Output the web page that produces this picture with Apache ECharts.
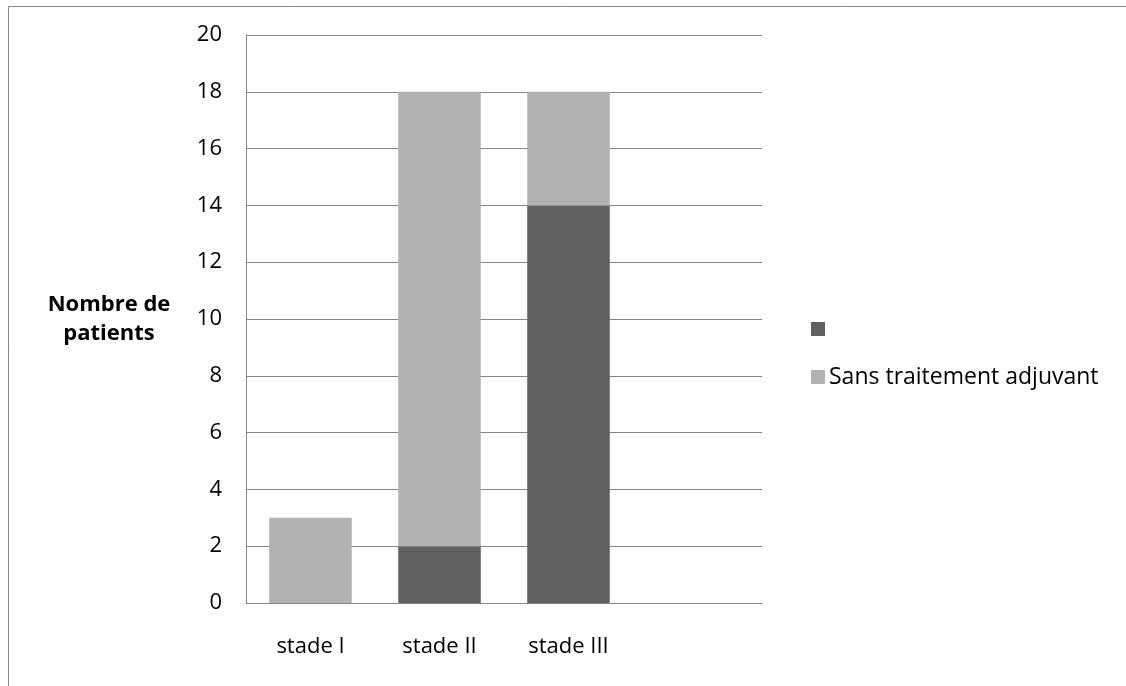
<!DOCTYPE html>
<html>
<head>
<meta charset="utf-8">
<script src="https://cdn.jsdelivr.net/npm/echarts@6/dist/echarts.min.js"></script>
<style>html,body{margin:0;padding:0;background:#fff;}#c{width:1126px;height:686px;}</style>
</head>
<body>
<div id="c"></div>
<script>
const categories = ['stade I', 'stade II', 'stade III', ''];
const avecTraitement = [0, 2, 14, null];
const sansTraitement = [3, 16, 4, null];
const yTicks = [0, 2, 4, 6, 8, 10, 12, 14, 16, 18, 20];
const seriesNames = [' ', 'Sans traitement adjuvant'];
const yAxisTitle = 'Nombre de\npatients';

const FONT = "'Open Sans', 'Liberation Sans', sans-serif";
const chart = echarts.init(document.getElementById('c'), null, {renderer: 'canvas'});
chart.setOption({
  animation: false,
  backgroundColor: '#fff',
  graphic: [{
    type: 'rect', shape: {x: 8.5, y: 6.5, width: 1200, height: 800},
    style: {fill: 'none', stroke: '#868686', lineWidth: 1}, silent: true
  }],
  grid: {left: 246, right: 364, top: 35, bottom: 83},
  legend: {
    left: 806, top: 312, orient: 'vertical', itemGap: 24,
    itemWidth: 14, itemHeight: 14, icon: 'rect',
    textStyle: {fontFamily: FONT, fontSize: 23, lineHeight: 24, color: '#000', padding: [0, 0, 0, -1]},
    data: seriesNames
  },
  xAxis: {
    type: 'category', data: categories,
    axisLine: {lineStyle: {color: '#868686'}},
    axisTick: {show: false},
    axisLabel: {color: '#000', fontFamily: FONT, fontSize: 22, margin: 33}
  },
  yAxis: {
    type: 'value', min: yTicks[0], max: yTicks[yTicks.length - 1], interval: 2,
    name: yAxisTitle, nameLocation: 'middle', nameRotate: 0, nameGap: 137,
    nameTextStyle: {fontFamily: FONT, fontSize: 22, fontWeight: 'bold', color: '#000', lineHeight: 29, align: 'center'},
    axisLine: {show: true, lineStyle: {color: '#868686'}},
    axisTick: {show: false},
    splitLine: {lineStyle: {color: '#868686'}},
    axisLabel: {color: '#000', fontFamily: FONT, fontSize: 22, margin: 24}
  },
  series: [{
    name: seriesNames[0], type: 'bar', stack: 'a', data: avecTraitement,
    barWidth: '64%', itemStyle: {color: '#606060'}
  }, {
    name: seriesNames[1], type: 'bar', stack: 'a', data: sansTraitement,
    barWidth: '64%', itemStyle: {color: '#b2b2b2'}
  }]
});
</script>
</body>
</html>
